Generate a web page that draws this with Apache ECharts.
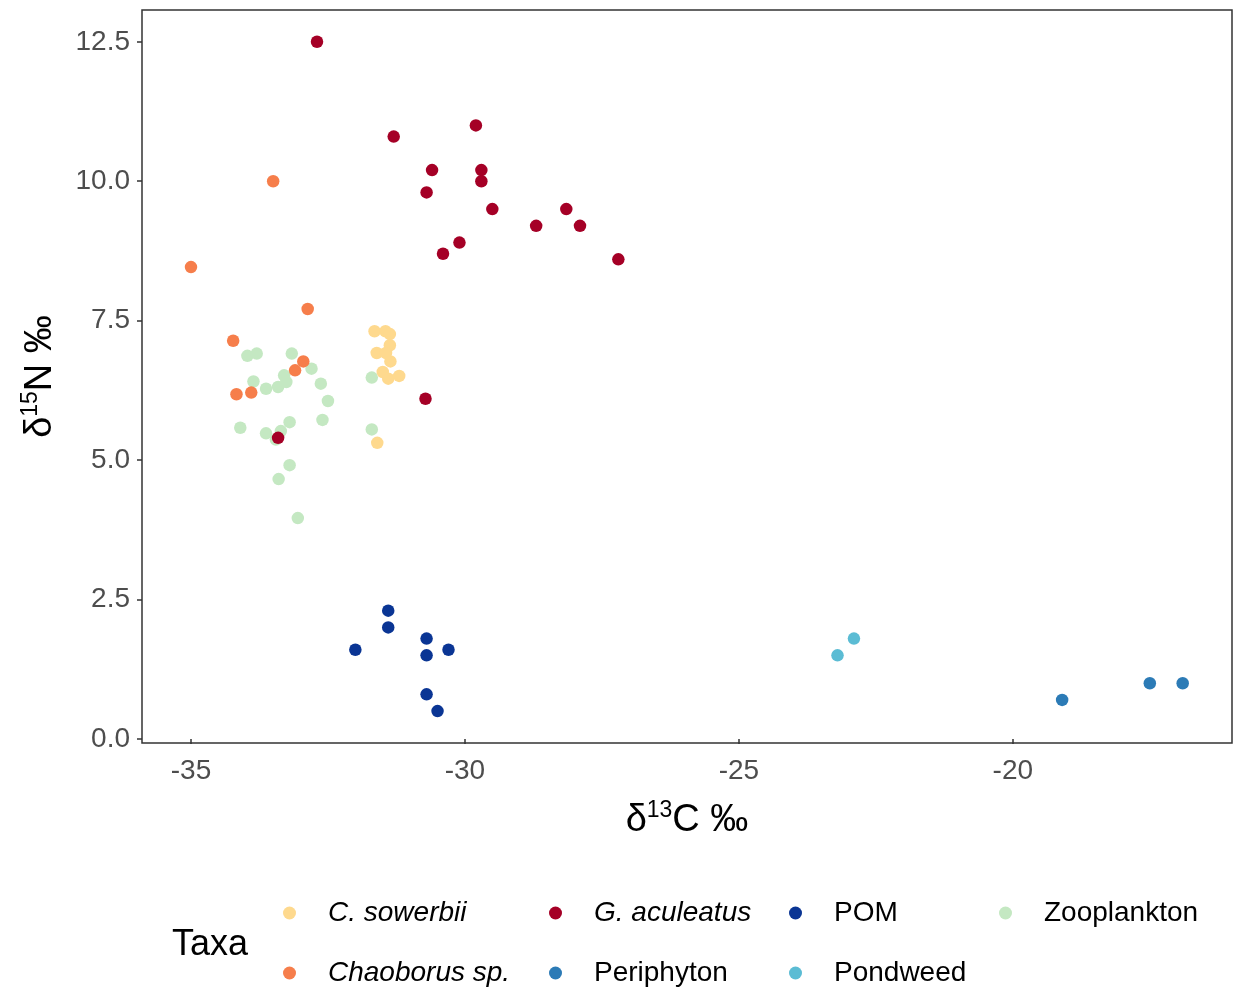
<!DOCTYPE html>
<html><head><meta charset="utf-8">
<script src="https://cdn.jsdelivr.net/npm/echarts@6/dist/echarts.min.js"></script>
<style>html,body{margin:0;padding:0;background:#fff}#c{width:1236px;height:989px}</style>
</head><body><div id="c"></div>
<script>
// ---- data (δ13C, δ15N) ----
const taxa = ['C. sowerbii','Chaoborus sp.','G. aculeatus','Periphyton','POM','Pondweed','Zooplankton'];
const italicTaxa = ['C. sowerbii','Chaoborus sp.','G. aculeatus'];

const sowerbiiX = [-31.65,-31.45,-31.37,-31.37,-31.61,-31.44,-31.36,-31.50,-31.40,-31.20,-31.60];
const sowerbiiY = [7.31,7.31,7.26,7.06,6.92,6.92,6.77,6.58,6.46,6.51,5.31];

const chaoborusX = [-33.50,-35.00,-32.87,-34.23,-32.95,-33.10,-34.17,-33.90];
const chaoborusY = [10.00,8.46,7.71,7.14,6.77,6.61,6.18,6.21];

const aculeatusX = [-32.70,-31.30,-29.80,-30.60,-29.70,-29.70,-30.70,-29.50,-28.15,-28.70,-27.90,-30.10,-30.40,-27.20,-30.72,-33.41];
const aculeatusY = [12.50,10.80,11.00,10.20,10.20,10.00,9.80,9.50,9.50,9.20,9.20,8.90,8.70,8.60,6.10,5.40];

const periphytonX = [-19.10,-17.50,-16.90];
const periphytonY = [0.70,1.00,1.00];

const pomX = [-31.40,-31.40,-32.00,-30.70,-30.70,-30.30,-30.70,-30.50];
const pomY = [2.30,2.00,1.60,1.80,1.50,1.60,0.80,0.50];

const pondweedX = [-23.20,-22.90];
const pondweedY = [1.50,1.80];

const zooX = [-33.97,-33.80,-33.16,-32.80,-33.30,-33.26,-33.41,-33.86,-33.63,-32.63,-32.50,-32.60,-33.20,-34.10,-33.63,-33.36,-33.45,-33.20,-33.40,-33.05,-31.70,-31.70];
const zooY = [6.87,6.91,6.91,6.64,6.52,6.40,6.31,6.41,6.28,6.37,6.06,5.72,5.68,5.58,5.48,5.52,5.37,4.91,4.66,3.96,6.48,5.55];

const xTicks = [-35,-30,-25,-20];
const yTicks = [0,2.5,5,7.5,10,12.5];

const colors = {
  'C. sowerbii':'#FED98E','Chaoborus sp.':'#F67E4B','G. aculeatus':'#A50026',
  'Periphyton':'#2C7BB6','POM':'#0A3594','Pondweed':'#5BBCD4','Zooplankton':'#C4E8C2'
};

function pts(xs, ys){ return xs.map((x,i)=>[x, ys[i]]); }
const seriesData = {
  'Zooplankton': pts(zooX, zooY),
  'C. sowerbii': pts(sowerbiiX, sowerbiiY),
  'Chaoborus sp.': pts(chaoborusX, chaoborusY),
  'POM': pts(pomX, pomY),
  'Pondweed': pts(pondweedX, pondweedY),
  'Periphyton': pts(periphytonX, periphytonY),
  'G. aculeatus': pts(aculeatusX, aculeatusY)
};

const FONT = 'Liberation Sans, Arial, sans-serif';
const chart = echarts.init(document.getElementById('c'), null, {renderer:'canvas'});

// legend grid: column lefts, row tops (ggplot fills by column)
const legendCols = [278, 544, 784, 994];
const legendRows = [893, 953];
const legends = taxa.map((name, i) => ({
  orient:'horizontal', icon:'circle', itemWidth:13, itemHeight:13,
  left: legendCols[Math.floor(i/2)], top: legendRows[i%2],
  data:[name], selectedMode:false,
  textStyle:{fontSize:28, color:'#000', fontFamily:FONT, lineHeight:30,
    rich:{ i:{fontStyle:'italic', fontSize:28, fontFamily:FONT, padding:[0,0,0,27]},
           n:{fontSize:28, fontFamily:FONT, padding:[0,0,0,27]} } },
  formatter: nm => italicTaxa.includes(nm) ? '{i|'+nm+'}' : '{n|'+nm+'}'
}));

const option = {
  animation:false,
  backgroundColor:'#fff',
  textStyle:{fontFamily:FONT},
  grid:{left:142, right:4, top:10, bottom:246, show:true, borderColor:'#333', borderWidth:1.5, backgroundColor:'transparent'},
  xAxis:{
    type:'value', min:-35.894, max:-16.0,
    axisLine:{show:false},
    splitLine:{show:false},
    axisTick:{show:true, length:5, inside:false, lineStyle:{color:'#333', width:1.5}, customValues:xTicks},
    axisLabel:{fontSize:28, color:'#4D4D4D', margin:14, fontFamily:FONT, customValues:xTicks},
    name:'{a|δ}{s|13}{a|C ‰}', nameLocation:'middle', nameGap:56,
    nameTextStyle:{rich:{a:{fontSize:38, color:'#000', fontFamily:FONT}, s:{fontSize:23, color:'#000', fontFamily:FONT, padding:[0,0,20,0]}}}
  },
  yAxis:{
    type:'value', min:-0.072, max:13.07,
    axisLine:{show:false},
    splitLine:{show:false},
    axisTick:{show:true, length:5, inside:false, lineStyle:{color:'#333', width:1.5}, customValues:yTicks},
    axisLabel:{fontSize:28, color:'#4D4D4D', margin:12, fontFamily:FONT, customValues:yTicks, formatter:v=>Number(v).toFixed(1)},
    name:'{a|δ}{s|15}{a|N ‰}', nameLocation:'middle', nameGap:80, nameRotate:90,
    nameTextStyle:{rich:{a:{fontSize:38, color:'#000', fontFamily:FONT}, s:{fontSize:23, color:'#000', fontFamily:FONT, padding:[0,0,20,0]}}}
  },
  legend: legends,
  graphic:[{type:'text', left:172, top:927, style:{text:'Taxa', fontSize:36, fill:'#000', fontFamily:FONT}}],
  series: Object.keys(seriesData).map(name => ({
    name, type:'scatter', data:seriesData[name], symbol:'circle', symbolSize:12.5,
    itemStyle:{color:colors[name], opacity:1}, emphasis:{disabled:true}
  }))
};
chart.setOption(option);
</script>
</body></html>
